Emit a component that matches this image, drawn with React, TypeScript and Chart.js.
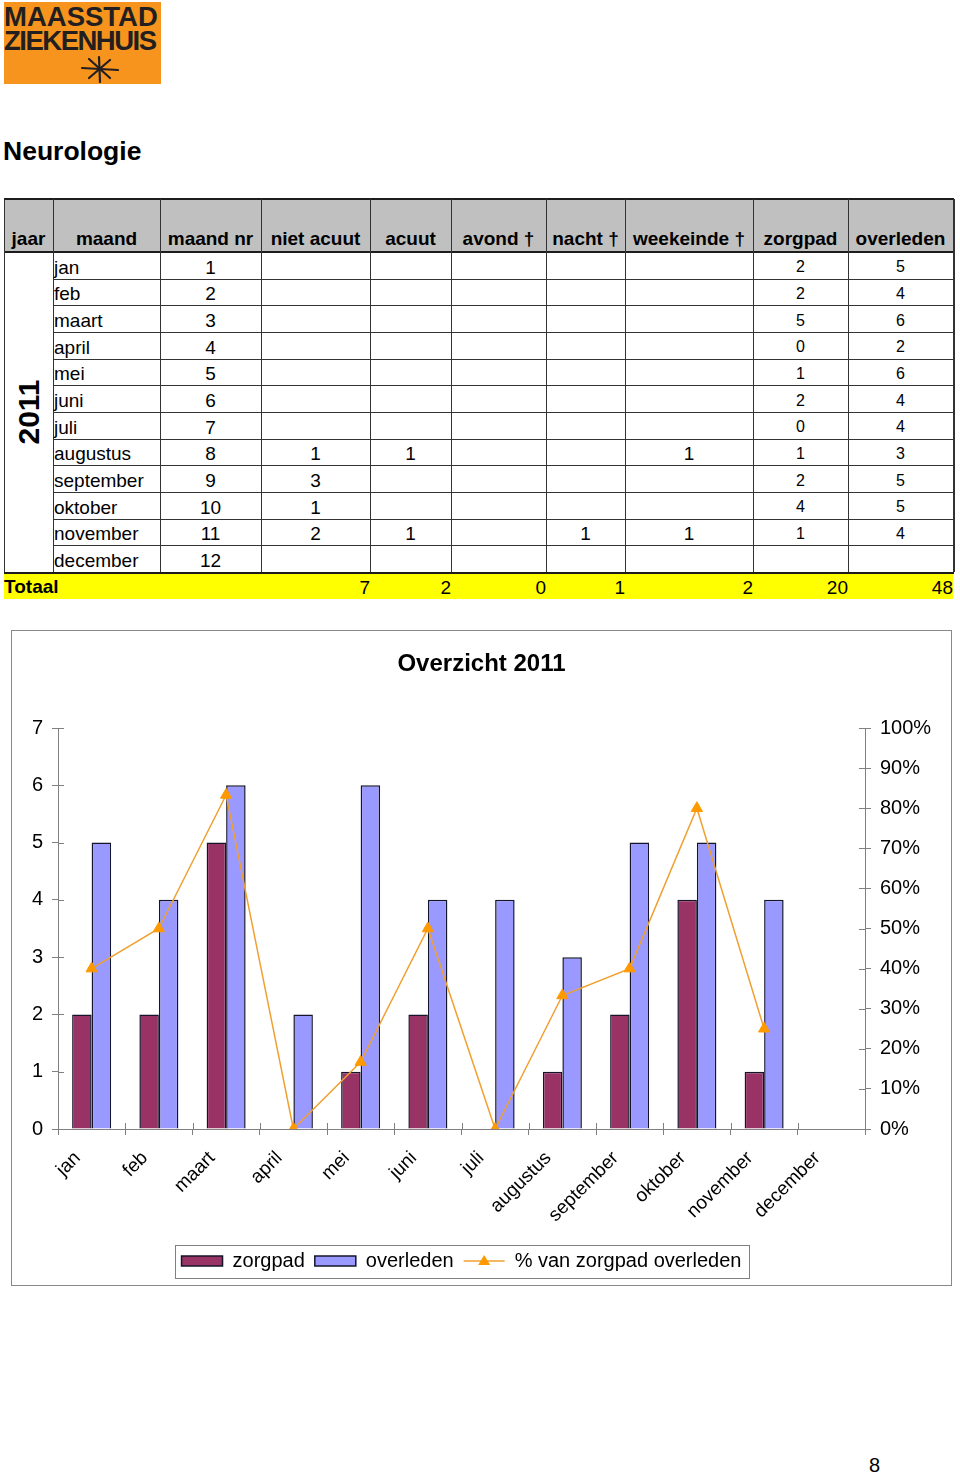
import React, { useEffect, useRef } from "react";
import { Chart, registerables } from "chart.js";

Chart.register(...registerables);

const FONT = '"Liberation Sans", Arial, Helvetica, sans-serif';

// ---------- data ----------
const months = ["jan", "feb", "maart", "april", "mei", "juni", "juli", "augustus", "september", "oktober", "november", "december"];
const maandNr = [1, 2, 3, 4, 5, 6, 7, 8, 9, 10, 11, 12];
const nietAcuut = [null, null, null, null, null, null, null, 1, 3, 1, 2, null];
const acuut = [null, null, null, null, null, null, null, 1, null, null, 1, null];
const avond = [null, null, null, null, null, null, null, null, null, null, null, null];
const nacht = [null, null, null, null, null, null, null, null, null, null, 1, null];
const weekeinde = [null, null, null, null, null, null, null, 1, null, null, 1, null];
const zorgpad = [2, 2, 5, 0, 1, 2, 0, 1, 2, 4, 1, null];
const overleden = [5, 4, 6, 2, 6, 4, 4, 3, 5, 5, 4, null];
const pctZorgpadOverleden = [40, 50, 83.3, 0, 16.7, 50, 0, 33.3, 40, 80, 25, null];

const headers = ["jaar", "maand", "maand nr", "niet acuut", "acuut", "avond †", "nacht †", "weekeinde †", "zorgpad", "overleden"];
const jaarLabel = "2011";
const totaalLabel = "Totaal";
const totals = [7, 2, 0, 1, 2, 20, 48]; // niet acuut .. overleden

const chartTitle = "Overzicht 2011";
const seriesLabels = ["zorgpad", "overleden", "% van zorgpad overleden"];
const pageNumber = "8";

// ---------- layout ----------
const colEdges = [4, 53, 160, 261, 370, 451, 546, 625, 753, 848, 953];
const headerTop = 199;
const bodyTop = 252;
const rowH = 26.667;
const bodyBottom = 572;

const columnsData: (string | number | null)[][] = [months, maandNr, nietAcuut, acuut, avond, nacht, weekeinde, zorgpad, overleden];

const LINE = "#1c1c1c";

function Table() {
  const els: React.ReactNode[] = [];
  els.push(<div key="hbg" style={{ position: "absolute", left: 4, top: headerTop, width: 949, height: bodyTop - headerTop, background: "#C0C0C0" }} />);
  els.push(<div key="tl" style={{ position: "absolute", left: 4, top: 198, width: 950, height: 2, background: LINE }} />);
  els.push(<div key="hb" style={{ position: "absolute", left: 4, top: 251, width: 950, height: 2, background: LINE }} />);
  for (let i = 1; i < 12; i++) {
    const y = Math.round(bodyTop + i * rowH);
    els.push(<div key={"rl" + i} style={{ position: "absolute", left: 53, top: y, width: 900, height: 1, background: "#333" }} />);
  }
  els.push(<div key="bb" style={{ position: "absolute", left: 4, top: bodyBottom, width: 950, height: 2, background: LINE }} />);
  colEdges.forEach((x, i) => {
    els.push(<div key={"vl" + i} style={{ position: "absolute", left: x, top: 199, width: i === colEdges.length - 1 ? 2 : 1, height: bodyBottom - 199, background: "#333" }} />);
  });
  headers.forEach((h, c) => {
    els.push(
      <div key={"h" + c} style={{ position: "absolute", left: colEdges[c], width: colEdges[c + 1] - colEdges[c], top: 229, height: 19, lineHeight: "19px", fontSize: 19, fontWeight: "bold", textAlign: "center", whiteSpace: "nowrap" }}>{h}</div>
    );
  });
  els.push(
    <div key="jaar" style={{ position: "absolute", left: 28.5, top: 412, transform: "translate(-50%, -50%) rotate(-90deg)", fontSize: 30, fontWeight: "bold", lineHeight: "30px", whiteSpace: "nowrap" }}>{jaarLabel}</div>
  );
  for (let i = 0; i < 12; i++) {
    const top = bodyTop + i * rowH;
    columnsData.forEach((arr, k) => {
      const c = k + 1;
      const v = arr[i];
      if (v === null || v === undefined) return;
      const small = c >= 8;
      els.push(
        <div key={"c" + i + "_" + c} style={{ position: "absolute", left: colEdges[c] + (c === 1 ? 1 : 0), width: colEdges[c + 1] - colEdges[c], top: top + 2, height: rowH, display: "flex", alignItems: "center", justifyContent: c === 1 ? "flex-start" : "center", fontSize: small ? 16 : 19, lineHeight: small ? "16px" : "19px", whiteSpace: "nowrap" }}>{String(v)}</div>
      );
    });
  }
  els.push(<div key="tbg" style={{ position: "absolute", left: 4, top: 574, width: 949, height: 25, background: "#FFFF00" }} />);
  els.push(<div key="tlab" style={{ position: "absolute", left: 4, top: 574, height: 25, display: "flex", alignItems: "center", fontSize: 19, fontWeight: "bold", lineHeight: "19px" }}>{totaalLabel}</div>);
  totals.forEach((t, k) => {
    const c = k + 3;
    els.push(
      <div key={"t" + k} style={{ position: "absolute", left: colEdges[c], width: colEdges[c + 1] - colEdges[c], top: 575, height: 25, display: "flex", alignItems: "center", justifyContent: "flex-end", fontSize: 19, lineHeight: "19px" }}>{String(t)}</div>
    );
  });
  return <>{els}</>;
}

function Logo() {
  return (
    <div style={{ position: "absolute", left: 4, top: 2, width: 157, height: 82, background: "#F7941E", overflow: "hidden" }}>
      <div style={{ position: "absolute", left: 0, top: 0.7, fontSize: 27.5, lineHeight: "27.5px", fontWeight: "bold", color: "#231F20", whiteSpace: "nowrap" }}>MAASSTAD</div>
      <div style={{ position: "absolute", left: 0, top: 25.2, fontSize: 27.5, lineHeight: "27.5px", fontWeight: "bold", color: "#231F20", letterSpacing: -1.5, whiteSpace: "nowrap" }}>ZIEKENHUIS</div>
      <svg style={{ position: "absolute", left: 77, top: 53 }} width={38} height={28} viewBox="0 0 38 28">
        <g stroke="#231F20" strokeWidth={2.2} strokeLinecap="round">
          <line x1={1} y1={13} x2={37} y2={15} />
          <line x1={18} y1={2} x2={19} y2={27} />
          <line x1={8} y1={4} x2={29} y2={23} />
          <line x1={29} y1={5} x2={8} y2={23} />
        </g>
      </svg>
    </div>
  );
}

function OverzichtChart() {
  const ref = useRef<HTMLCanvasElement | null>(null);
  useEffect(() => {
    const canvas = ref.current;
    if (!canvas) return;
    const axisColor = "#808080";
    const lineColor = "#F0A030";
    const markerColor = "#FF9900";

    const extras = {
      id: "extras",
      afterDraw(chart: any) {
        const ctx = chart.ctx;
        const x = chart.scales.x;
        const y = chart.scales.y;
        const y1 = chart.scales.y1;
        ctx.save();
        ctx.strokeStyle = axisColor;
        ctx.lineWidth = 1;
        ctx.beginPath();
        y.ticks.forEach((_t: any, i: number) => {
          const py = Math.round(y.getPixelForTick(i)) + 0.5;
          ctx.moveTo(y.right, py);
          ctx.lineTo(y.right + 6, py);
        });
        y1.ticks.forEach((_t: any, i: number) => {
          const py = Math.round(y1.getPixelForTick(i)) + 0.5;
          ctx.moveTo(y1.left, py);
          ctx.lineTo(y1.left - 6, py);
        });
        for (let i = 1; i < x.ticks.length; i++) {
          const px = Math.round((x.getPixelForTick(i - 1) + x.getPixelForTick(i)) / 2) + 0.5;
          ctx.moveTo(px, x.top);
          ctx.lineTo(px, x.top - 6);
        }
        ctx.stroke();

        const lg = chart.legend;
        if (lg && lg.legendHitBoxes && lg.legendHitBoxes.length) {
          const hb = lg.legendHitBoxes;
          let l = Infinity, r = -Infinity, t = Infinity, b = -Infinity;
          hb.forEach((h: any) => {
            l = Math.min(l, h.left);
            r = Math.max(r, h.left + h.width);
            t = Math.min(t, h.top);
            b = Math.max(b, h.top + h.height);
          });
          ctx.strokeStyle = axisColor;
          ctx.lineWidth = 1;
          ctx.strokeRect(Math.round(l - 7) + 0.5, Math.round(t - 6) + 0.5, Math.round(r - l + 14), Math.round(b - t + 13));
          const h = hb[2];
          const cy = h.top + h.height / 2;
          ctx.strokeStyle = lineColor;
          ctx.lineWidth = 1.5;
          ctx.beginPath();
          ctx.moveTo(h.left, cy);
          ctx.lineTo(h.left + 41, cy);
          ctx.stroke();
          const cx = h.left + 20.5;
          ctx.fillStyle = markerColor;
          ctx.beginPath();
          ctx.moveTo(cx, cy - 6);
          ctx.lineTo(cx + 6, cy + 4);
          ctx.lineTo(cx - 6, cy + 4);
          ctx.closePath();
          ctx.fill();
        }
        ctx.restore();
      },
    };

    const chart = new Chart(canvas, {
      type: "bar",
      data: {
        labels: months,
        datasets: [
          {
            type: "bar",
            label: seriesLabels[0],
            data: zorgpad,
            backgroundColor: "#993366",
            borderColor: "#14142a",
            borderWidth: 1.5,
            yAxisID: "y",
            order: 1,
            barPercentage: 1,
            categoryPercentage: 0.58,
          },
          {
            type: "bar",
            label: seriesLabels[1],
            data: overleden,
            backgroundColor: "#9999FF",
            borderColor: "#14142a",
            borderWidth: 1.5,
            yAxisID: "y",
            order: 1,
            barPercentage: 1,
            categoryPercentage: 0.58,
          },
          {
            type: "line",
            label: seriesLabels[2],
            data: pctZorgpadOverleden,
            borderColor: lineColor,
            backgroundColor: markerColor,
            borderWidth: 1.5,
            pointStyle: "triangle",
            pointRadius: 6.5,
            pointBorderColor: markerColor,
            pointBackgroundColor: markerColor,
            pointBorderWidth: 1,
            yAxisID: "y1",
            order: 0,
            spanGaps: false,
          },
        ] as any,
      },
      options: {
        responsive: false,
        animation: false,
        layout: { padding: { top: 0, left: 0, right: 0, bottom: 4 }, autoPadding: false } as any,
        plugins: {
          title: {
            display: true,
            text: chartTitle,
            color: "#000",
            font: { family: FONT, size: 24, weight: "bold", lineHeight: 1.2 },
            padding: { top: 18.6, bottom: 49.6 },
          },
          legend: {
            display: true,
            position: "bottom",
            fullSize: false,
            labels: {
              color: "#000",
              font: { family: FONT, size: 20 },
              boxWidth: 41,
              boxHeight: 10,
              padding: 10,
              generateLabels: (ch: any) =>
                ch.data.datasets.map((ds: any, i: number) => ({
                  text: ds.label,
                  fillStyle: i < 2 ? ds.backgroundColor : "rgba(0,0,0,0)",
                  strokeStyle: i < 2 ? "#14142a" : "rgba(0,0,0,0)",
                  lineWidth: i < 2 ? 1.5 : 0,
                  hidden: false,
                  datasetIndex: i,
                  fontColor: "#000",
                })),
            },
          } as any,
          tooltip: { enabled: false },
        },
        scales: {
          x: {
            grid: { offset: true, drawOnChartArea: false, color: axisColor, tickLength: 6 },
            border: { color: axisColor },
            ticks: {
              color: "#000",
              font: { family: FONT, size: 19 },
              maxRotation: 45,
              minRotation: 45,
              autoSkip: false,
              padding: 12,
              labelOffset: -14,
            },
            afterFit: (s: any) => {
              s.height = 112;
            },
          },
          y: {
            position: "left",
            min: 0,
            max: 7,
            ticks: { stepSize: 1, color: "#000", font: { family: FONT, size: 20 }, padding: 9 },
            grid: { drawOnChartArea: false, color: axisColor, tickLength: 6 },
            border: { color: axisColor },
            afterFit: (s: any) => {
              s.width = 46;
            },
          },
          y1: {
            position: "right",
            min: 0,
            max: 100,
            ticks: {
              stepSize: 10,
              color: "#000",
              font: { family: FONT, size: 20 },
              padding: 9,
              callback: (v: any) => v + "%",
            },
            grid: { drawOnChartArea: false, color: axisColor, tickLength: 6 },
            border: { color: axisColor },
            afterFit: (s: any) => {
              s.width = 86;
            },
          },
        },
      } as any,
      plugins: [extras],
    });
    return () => chart.destroy();
  }, []);
  return (
    <div style={{ position: "absolute", left: 11, top: 630, width: 941, height: 656, border: "1px solid #888", boxSizing: "border-box" }}>
      <canvas ref={ref} width={939} height={654} style={{ display: "block", width: 939, height: 654 }} />
    </div>
  );
}

export default function App() {
  return (
    <div style={{ position: "absolute", left: 0, top: 0, width: 960, height: 1473, background: "#fff", fontFamily: FONT, color: "#000", overflow: "hidden" }}>
      <Logo />
      <div style={{ position: "absolute", left: 3, top: 137.6, fontSize: 26.5, lineHeight: "26.5px", fontWeight: "bold", whiteSpace: "nowrap" }}>Neurologie</div>
      <Table />
      <OverzichtChart />
      <div style={{ position: "absolute", left: 869, top: 1455, fontSize: 20, lineHeight: "20px" }}>{pageNumber}</div>
    </div>
  );
}
